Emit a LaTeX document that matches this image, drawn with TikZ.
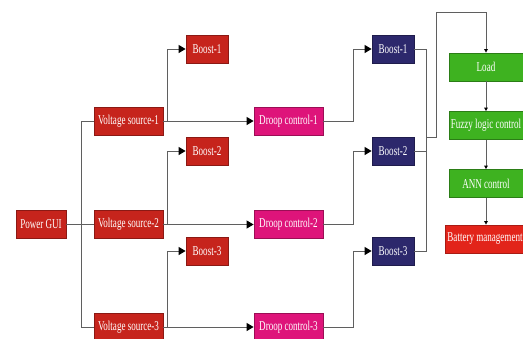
\documentclass[tikz,border=0pt]{standalone}
\usepackage{fontspec}
\setmainfont[FakeStretch=0.67]{Liberation Serif}
\usetikzlibrary{arrows.meta}

\definecolor{boxred}{RGB}{198,36,28}
\definecolor{boxpink}{RGB}{222,20,122}
\definecolor{boxnavy}{RGB}{44,40,108}
\definecolor{boxgreen}{RGB}{62,178,32}
\definecolor{battred}{RGB}{226,36,26}
\definecolor{linegray}{RGB}{95,95,95}

\begin{document}
\begin{tikzpicture}[x=1pt, y=-1pt,
    blk/.style={minimum height=28pt, inner sep=0pt, text=white, line width=0.8pt,
        font=\fontsize{13.5}{14}\selectfont},
    redbox/.style={blk, fill=boxred, draw=boxred!70!black},
    pinkbox/.style={blk, fill=boxpink, draw=boxpink!70!black, minimum width=69pt},
    navybox/.style={blk, fill=boxnavy, draw=boxnavy!70!black, minimum width=42pt},
    greenbox/.style={blk, fill=boxgreen, draw=boxgreen!70!black, minimum width=74pt},
    battbox/.style={blk, fill=battred, draw=battred!75!black, minimum width=80pt},
    wire/.style={draw=linegray, line width=1pt},
    arr/.style={wire, -{Triangle[length=7pt,width=8pt,color=black]}},
    arrsmall/.style={wire, -{Triangle[length=3.5pt,width=3.5pt,color=black]}}]

\useasboundingbox (0,0) rectangle (523,338);

% source side
\node[redbox, minimum width=50pt] (pg) at (41,224.5) {Power GUI};

\foreach \i/\y/\by in {1/121/49, 2/224.5/151, 3/327/251}
{
    \node[redbox, minimum width=69pt] (vs\i) at (128.5,\y) {Voltage source-\i};
    \node[redbox, minimum width=42pt] (rb\i) at (207,\by) {Boost-\i};
    \node[pinkbox] (dc\i) at (288.5,\y) {Droop control-\i};
    \node[navybox] (nb\i) at (393,\by) {Boost-\i};
    \draw[arr] (vs\i) -- (dc\i);
    \draw[arr] ([xshift=4pt]vs\i.east) |- (rb\i);
    \draw[arr] (dc\i.east) -- ++(30,0) |- (nb\i);
}

% power GUI feeds the three sources
\draw[wire] (pg) -- (vs2);
\draw[wire] (vs1.west) -- ++(-12,0) |- (vs3.west);

% collect the boost outputs
\draw[wire] (nb1.east) -- ++(12,0) coordinate (col) |- (nb3.east);
\draw[wire] (nb2.east) -- (nb2.east -| col);
\coordinate (bus) at (col |- 0,137);

% load side
\node[greenbox] (load) at (486,67) {Load};
\node[greenbox] (fuzzy) at (486,125.5) {Fuzzy logic control};
\node[greenbox] (ann) at (486,183.5) {ANN control};
\node[battbox] (batt) at (485,239) {Battery management};

\draw[arrsmall] (bus) -- ++(10,0) -- ++(0,-125) -| (load.north);
\draw[arrsmall] (load) -- (fuzzy);
\draw[arrsmall] (fuzzy) -- (ann);
\draw[arrsmall] (ann.south) -- (ann.south |- batt.north);

\end{tikzpicture}
\end{document}
